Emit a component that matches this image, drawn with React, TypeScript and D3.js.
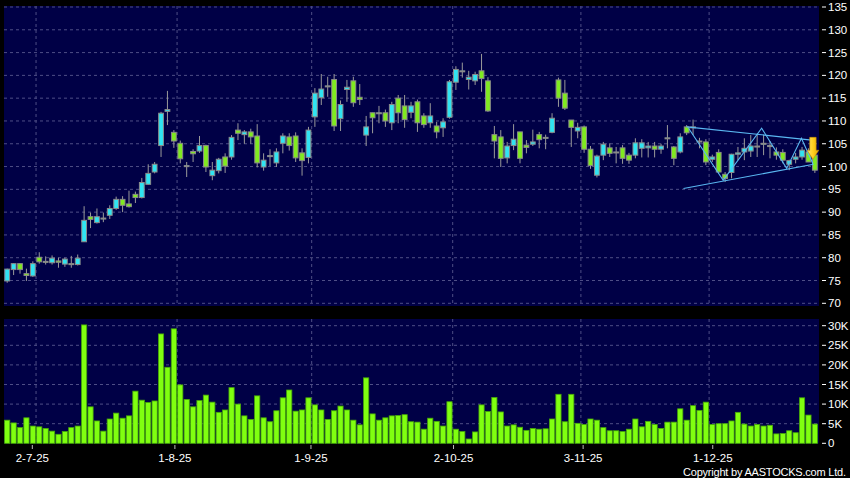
import * as d3 from "d3";

// OHLC, one entry per trading day (oldest first)
const openP = [
  74.9, 77.4, 78.7, 76.5, 76.0, 80.1, 79.2, 78.9, 79.3, 78.6, 78.7, 78.5, 83.5, 89.0, 87.7, 88.7, 89.3, 90.8, 92.8, 91.8,
  93.9, 93.2, 96.1, 98.8, 104.6, 112.1, 107.5, 105.1, 100.2, 103.3, 103.4, 104.6, 98.0, 99.1, 102.1, 102.1, 108.0, 107.0, 107.6, 106.7,
  99.9, 102.4, 100.8, 105.1, 106.5, 106.7, 103.0, 102.0, 110.9, 115.1, 117.7, 119.1, 110.5, 116.9, 118.8, 115.2, 106.9, 111.8, 111.8, 111.8,
  109.6, 115.0, 113.3, 111.9, 114.2, 111.1, 109.6, 108.9, 108.5, 110.8, 118.5, 121.0, 119.1, 118.8, 121.0, 118.8, 107.0, 106.5, 101.9, 104.6,
  107.6, 104.7, 104.9, 107.0, 106.4, 107.5, 119.0, 116.1, 110.2, 107.8, 108.7, 103.8, 98.1, 102.5, 104.1, 103.2, 104.1, 102.5, 102.5, 104.0,
  104.1, 104.5, 103.8, 106.3, 104.3, 103.2, 108.7, 108.7, 105.4, 105.4, 101.6, 103.1, 98.3, 98.7, 102.7, 103.2, 103.4, 104.5, 104.9, 104.6,
  103.2, 103.1, 100.5, 101.6, 102.1, 103.2, 102.5,
];
const highP = [
  77.6, 78.8, 78.8, 77.6, 79.2, 81.2, 80.3, 80.5, 80.0, 80.0, 80.4, 80.7, 91.3, 89.9, 90.8, 89.9, 91.5, 93.4, 93.5, 94.7,
  94.5, 97.5, 100.5, 101.0, 112.0, 116.6, 108.0, 105.7, 101.0, 103.8, 106.7, 104.8, 101.0, 101.9, 102.9, 106.9, 109.5, 108.0, 108.3, 109.3,
  102.9, 103.8, 104.0, 107.3, 107.3, 107.5, 104.0, 108.7, 117.2, 120.3, 119.7, 120.3, 114.5, 119.0, 119.7, 118.1, 111.1, 111.8, 113.3, 112.5,
  114.2, 115.7, 115.7, 114.2, 114.7, 111.7, 113.9, 109.8, 110.6, 119.0, 122.0, 122.8, 121.0, 120.8, 124.7, 119.6, 108.9, 108.0, 105.4, 109.3,
  107.6, 105.8, 108.1, 107.6, 107.0, 111.7, 119.5, 119.0, 110.2, 109.6, 109.0, 104.5, 102.6, 105.4, 105.1, 104.3, 104.7, 103.0, 106.2, 106.0,
  105.4, 105.4, 105.0, 109.1, 104.5, 107.3, 109.1, 110.3, 106.3, 106.0, 102.6, 103.8, 98.8, 102.8, 104.3, 106.2, 106.9, 107.2, 107.0, 105.6,
  104.2, 103.8, 101.5, 103.0, 104.3, 104.0, 103.0,
];
const lowP = [
  74.5, 76.2, 76.5, 74.9, 75.8, 78.7, 78.5, 78.5, 77.8, 78.0, 77.8, 78.3, 83.5, 86.5, 87.5, 87.8, 88.5, 90.5, 90.0, 91.0,
  92.0, 93.0, 96.0, 98.5, 102.1, 109.1, 104.1, 100.7, 97.7, 101.0, 103.0, 98.8, 97.0, 98.5, 98.6, 101.5, 105.8, 105.0, 105.0, 99.8,
  99.1, 100.1, 99.9, 102.9, 103.5, 101.0, 98.0, 100.7, 108.7, 113.5, 115.3, 107.8, 107.8, 114.2, 113.1, 113.5, 104.5, 107.3, 109.5, 108.7,
  108.0, 109.5, 108.5, 110.6, 107.6, 108.5, 108.5, 106.2, 106.5, 110.5, 116.8, 119.5, 116.9, 117.9, 116.4, 112.0, 101.8, 99.9, 100.7, 103.6,
  100.7, 102.9, 104.5, 104.0, 103.8, 107.3, 113.1, 112.4, 104.3, 106.2, 103.0, 99.5, 97.6, 101.4, 102.1, 100.7, 100.6, 100.6, 101.8, 102.0,
  102.0, 102.0, 102.8, 104.0, 100.3, 102.9, 106.9, 106.9, 104.0, 100.3, 101.0, 98.5, 96.6, 97.4, 101.4, 101.4, 102.1, 102.1, 102.5, 101.8,
  101.5, 100.7, 99.2, 100.7, 101.5, 101.0, 98.6,
];
const closeP = [
  77.5, 78.7, 77.4, 76.1, 78.7, 79.1, 79.1, 79.9, 79.0, 79.7, 78.5, 79.9, 88.2, 88.4, 89.0, 88.7, 90.8, 92.8, 91.5, 91.2,
  93.2, 96.5, 98.5, 100.5, 111.7, 112.5, 105.6, 101.7, 100.2, 102.8, 104.6, 99.9, 99.2, 101.6, 100.1, 106.4, 107.3, 107.6, 106.5, 100.8,
  101.4, 102.4, 103.2, 106.7, 104.6, 101.9, 101.3, 108.0, 116.1, 117.0, 117.7, 108.9, 113.6, 117.4, 114.0, 114.7, 108.7, 110.7, 111.8, 110.0,
  113.6, 111.8, 110.3, 113.3, 109.6, 109.2, 111.1, 107.6, 109.8, 118.6, 121.3, 121.0, 119.6, 120.2, 119.3, 112.2, 105.6, 101.8, 104.5, 106.0,
  101.8, 104.2, 105.4, 105.9, 106.4, 110.6, 115.0, 112.8, 108.6, 108.6, 103.8, 100.2, 102.3, 104.9, 102.9, 103.2, 101.8, 101.4, 105.2, 105.2,
  104.5, 103.8, 104.5, 106.3, 101.8, 106.5, 107.4, 108.7, 105.6, 101.0, 102.1, 98.8, 97.4, 102.7, 103.0, 104.0, 104.5, 104.3, 105.1, 104.6,
  102.5, 101.4, 101.3, 102.1, 103.6, 101.0, 99.2,
];
// volume in thousands of shares
const volumeK = [
  5.9, 5.2, 4.0, 6.5, 4.4, 4.2, 3.8, 3.1, 2.3, 3.0, 4.0, 4.4, 30.2, 9.3, 5.7, 3.1, 6.2, 7.7, 6.4, 7.0,
  13.3, 11.0, 10.4, 10.8, 27.9, 19.4, 29.2, 14.9, 11.2, 9.3, 10.9, 12.3, 10.5, 7.9, 8.5, 14.2, 10.0, 7.0, 6.1, 12.1,
  6.5, 5.5, 8.3, 11.6, 13.6, 8.2, 8.5, 11.6, 9.8, 8.5, 6.1, 8.3, 9.5, 8.5, 5.9, 4.7, 16.7, 7.5, 5.9, 6.5,
  7.0, 7.1, 7.3, 5.5, 5.4, 3.6, 6.4, 5.6, 4.4, 10.6, 3.6, 3.0, 1.1, 2.9, 9.8, 8.1, 11.7, 8.0, 4.4, 4.7,
  4.1, 3.3, 3.8, 3.6, 3.7, 6.2, 12.5, 5.5, 12.5, 5.1, 4.8, 6.2, 5.9, 4.0, 3.2, 3.2, 3.0, 3.6, 6.2, 4.2,
  5.6, 4.8, 3.8, 5.4, 5.4, 8.8, 5.9, 9.6, 8.4, 10.5, 4.8, 5.0, 5.0, 5.7, 7.9, 4.9, 4.4, 4.8, 4.4, 4.6,
  2.4, 2.5, 3.2, 2.7, 11.6, 7.2, 4.9,
];

const priceTicks = [70, 75, 80, 85, 90, 95, 100, 105, 110, 115, 120, 125, 130, 135];
const volumeTicks = [0, 5, 10, 15, 20, 25, 30];
const dateLabels = ["2-7-25", "1-8-25", "1-9-25", "2-10-25", "3-11-25", "1-12-25"];
const dateIndex = [4, 26, 47, 69, 89, 109];

// triangle pattern overlay: [day index, price]
const upperLine = [[106.0, 108.7], [125.5, 105.8]];
const lowerLine = [[105.5, 95.2], [125.8, 100.5]];
const zigzag = [[106.3, 108.4], [111.7, 97.0], [117.7, 108.4], [121.6, 99.6], [123.9, 106.2], [125.7, 100.6]];
const signalArrow = { index: 125.7, from: 106.4, to: 101.6 };

const W = 850;
const H = 478;
const n = closeP.length;
const plotL = 4;
const plotR = 819;

const UP = "#30e4f2";
const DOWN = "#80ea20";
const GRID = "#4e4e86";
const NAVY = "#000046";
const FONT = "'Liberation Sans', Arial, sans-serif";

export default function App() {
  const x = d3.scaleLinear().domain([0, n - 1]).range([7.2, 7.2 + (n - 1) * 6.41]);
  const step = x(1) - x(0);
  const xLabel = d3.scaleLinear().domain([0, n - 1]).range([6.4, 822.9]);
  const yP = d3.scaleLinear().domain([70, 135]).range([303.3, 7]);
  const yV = d3.scaleLinear().domain([0, 30]).range([443.3, 325.7]);
  const line = d3
    .line<number[]>()
    .x((d) => x(d[0]))
    .y((d) => yP(d[1]));

  const bodyW = 4.8;
  const ax = x(signalArrow.index);
  const a0 = yP(signalArrow.from);
  const a1 = yP(signalArrow.to);
  const headTop = a1 - 9;
  const arrowPts = [
    [ax - 3.2, a0],
    [ax + 3.2, a0],
    [ax + 3.2, headTop],
    [ax + 5.8, headTop],
    [ax, a1],
    [ax - 5.8, headTop],
    [ax - 3.2, headTop],
  ]
    .map((p) => p.join(","))
    .join(" ");

  return (
    <div style={{ position: "absolute", left: 0, top: 0 }}>
      <svg width={W} height={H} style={{ display: "block", background: "#000" }} fontFamily={FONT}>
        <defs>
          <linearGradient id="arrowFill" x1="0" x2="1" y1="0" y2="0">
            <stop offset="0" stopColor="#ffe26a" />
            <stop offset="0.5" stopColor="#ffd020" />
            <stop offset="1" stopColor="#e8a800" />
          </linearGradient>
        </defs>
        <rect width={W} height={H} fill="#000" />
        {/* price panel */}
        <rect x={plotL} y={6} width={plotR - plotL} height={300} fill={NAVY} />
        {/* volume panel */}
        <rect x={plotL} y={319} width={plotR - plotL} height={124.5} fill={NAVY} />

        {/* horizontal grid */}
        {priceTicks.map((t) => (
          <line key={"pg" + t} x1={plotL} x2={plotR} y1={yP(t)} y2={yP(t)} stroke={GRID} strokeDasharray="3,3" strokeWidth={1} />
        ))}
        {volumeTicks
          .filter((t) => t > 0)
          .map((t) => (
            <line key={"vg" + t} x1={plotL} x2={plotR} y1={yV(t)} y2={yV(t)} stroke={GRID} strokeDasharray="3,3" strokeWidth={1} />
          ))}
        {/* vertical grid */}
        {dateIndex.map((i) => (
          <g key={"vgx" + i}>
            <line x1={x(i) + step / 2} x2={x(i) + step / 2} y1={6} y2={306} stroke={GRID} strokeDasharray="3,3" />
            <line x1={x(i) + step / 2} x2={x(i) + step / 2} y1={319} y2={443} stroke={GRID} strokeDasharray="3,3" />
          </g>
        ))}

        {/* candles */}
        {closeP.map((c, i) => {
          const o = openP[i];
          const up = c >= o;
          const top = yP(Math.max(o, c));
          const h = Math.max(1, Math.abs(yP(o) - yP(c)));
          return (
            <g key={"c" + i}>
              <line x1={x(i)} x2={x(i)} y1={yP(highP[i])} y2={yP(lowP[i])} stroke="#9a9a9a" strokeWidth={1} />
              <rect
                x={x(i) - bodyW / 2}
                y={top}
                width={bodyW}
                height={h}
                fill={up ? UP : DOWN}
                stroke="#8a8a8a"
                strokeWidth={1}
              />
            </g>
          );
        })}

        {/* triangle pattern */}
        <g fill="none" stroke="#5ab8f2" strokeWidth={1.1}>
          <path d={line(upperLine) ?? ""} />
          <path d={line(lowerLine) ?? ""} />
          <path d={line(zigzag) ?? ""} />
        </g>
        <polygon points={arrowPts} fill="url(#arrowFill)" stroke="#c89000" strokeWidth={0.6} />

        {/* volume bars */}
        {volumeK.map((v, i) => (
          <rect
            key={"v" + i}
            x={x(i) - 2.6}
            y={yV(v)}
            width={5.2}
            height={yV(0) - yV(v)}
            fill="#80ff10"
            stroke="#46a808"
            strokeWidth={0.8}
          />
        ))}

        {/* right axes */}
        {priceTicks.map((t) => (
          <g key={"pl" + t}>
            <line x1={822} x2={826} y1={yP(t)} y2={yP(t)} stroke="#fff" />
            <text x={828} y={yP(t) + 4} fill="#fff" fontSize={11.5}>
              {t}
            </text>
          </g>
        ))}
        {volumeTicks.map((t) => (
          <g key={"vl" + t}>
            <line x1={822} x2={826} y1={yV(t)} y2={yV(t)} stroke="#fff" />
            <text x={828} y={yV(t) + 4} fill="#fff" fontSize={11.5}>
              {t === 0 ? "0" : t + "K"}
            </text>
          </g>
        ))}

        {/* date axis */}
        {dateIndex.map((i, k) => (
          <g key={"dl" + i}>
            <line x1={xLabel(i)} x2={xLabel(i)} y1={445} y2={449} stroke="#bbb" />
            <text x={xLabel(i)} y={462} fill="#fff" fontSize={11.5} textAnchor="middle">
              {dateLabels[k]}
            </text>
          </g>
        ))}

        <text x={683} y={476} fill="#fff" fontSize={11} textLength={163} lengthAdjust="spacing">
          Copyright by AASTOCKS.com Ltd.
        </text>
      </svg>
    </div>
  );
}
